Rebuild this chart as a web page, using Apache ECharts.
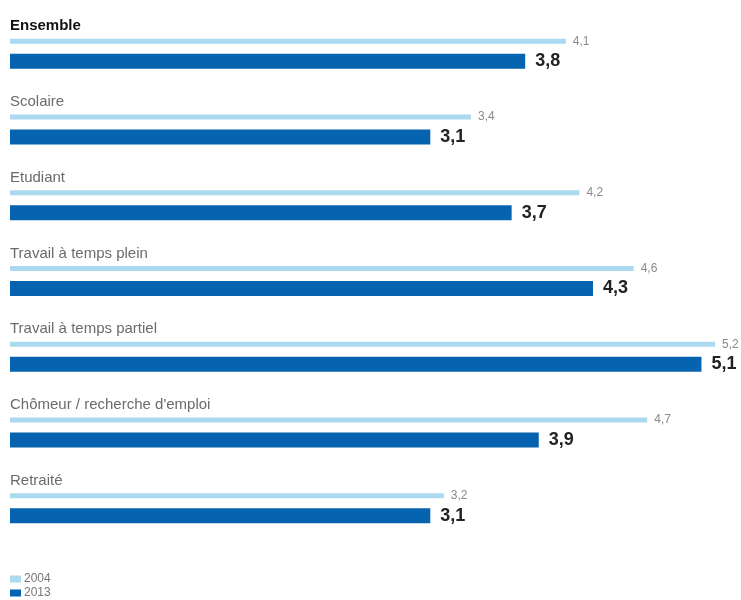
<!DOCTYPE html>
<html>
<head>
<meta charset="utf-8">
<script src="https://cdn.jsdelivr.net/npm/echarts@6/dist/echarts.min.js"></script>
<style>html,body{margin:0;padding:0;background:#fff}#c{width:741px;height:600px}</style>
</head>
<body>
<div id="c"></div>
<script>
const categories = ["Ensemble", "Scolaire", "Etudiant", "Travail à temps plein", "Travail à temps partiel", "Chômeur / recherche d'emploi", "Retraité"];
const values2004 = [4.1, 3.4, 4.2, 4.6, 5.2, 4.7, 3.2];
const values2013 = [3.8, 3.1, 3.7, 4.3, 5.1, 3.9, 3.1];
const seriesNames = ["2004", "2013"];

const FONT = "'Liberation Sans', Arial, sans-serif";
const fmt = p => String(p.value).replace('.', ',');

const chart = echarts.init(document.getElementById('c'));
chart.setOption({
  animation: false,
  backgroundColor: '#ffffff',
  grid: { left: 10, right: 26, top: 16, bottom: 54, containLabel: false },
  xAxis: { type: 'value', min: 0, max: 5.2, show: false },
  yAxis: {
    type: 'category', data: categories, inverse: true,
    axisLine: { show: false }, axisTick: { show: false }, splitLine: { show: false },
    axisLabel: {
      inside: true, margin: 0, verticalAlign: 'bottom', align: 'left',
      padding: [0, 0, 20, 0],
      fontFamily: FONT, fontSize: 15, color: '#6b6b6b',
      formatter: (v, i) => i === 0 ? '{b|' + v + '}' : v,
      rich: { b: { fontWeight: 'bold', color: '#111', fontSize: 15, fontFamily: FONT } }
    },
    z: 10
  },
  legend: {
    orient: 'vertical', left: 5, top: 568, height: 40, itemWidth: 11, itemHeight: 7, itemGap: 2,
    icon: 'rect', textStyle: { fontFamily: FONT, fontSize: 12, color: '#777', padding: [0,0,0,-2] },
    data: seriesNames
  },
  series: [
    {
      name: seriesNames[0], type: 'bar', data: values2004, barWidth: 5, barGap: '200%',
      itemStyle: { color: '#abdaf0' },
      label: { show: true, position: 'right', distance: 7, formatter: fmt,
               fontFamily: FONT, fontSize: 12, color: '#8a8a8a' }
    },
    {
      name: seriesNames[1], type: 'bar', data: values2013, barWidth: 15,
      itemStyle: { color: '#0563af' },
      label: { show: true, position: 'right', distance: 10, formatter: fmt,
               fontFamily: FONT, fontSize: 18, fontWeight: 'bold', color: '#222' }
    }
  ]
});
</script>
</body>
</html>
